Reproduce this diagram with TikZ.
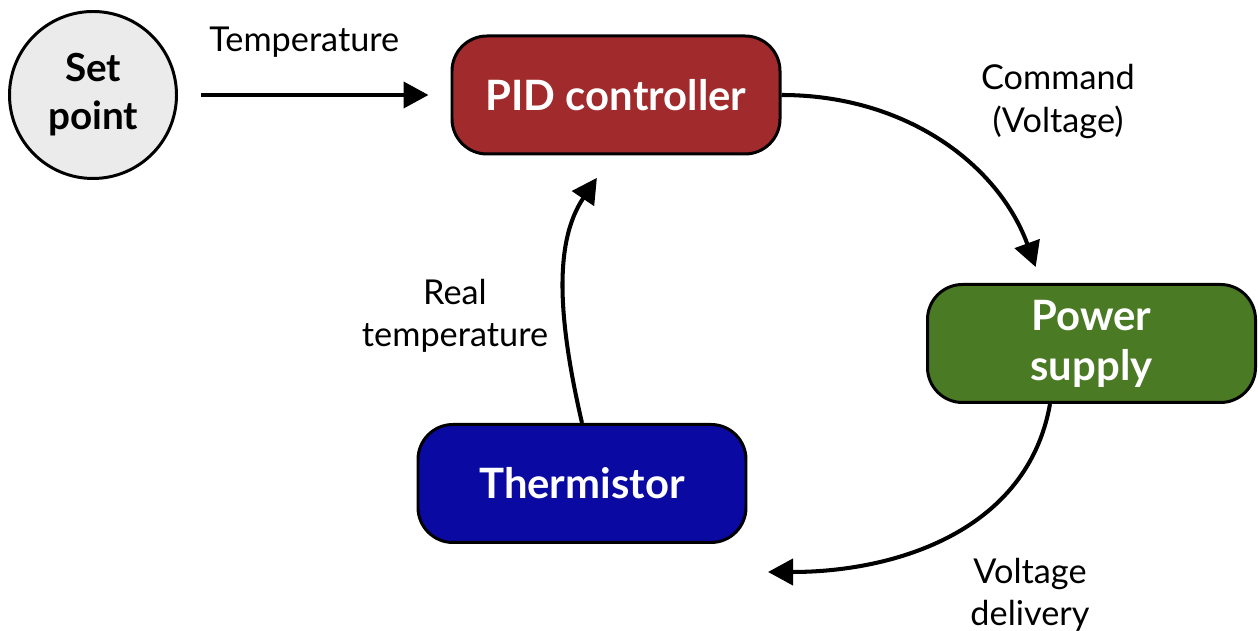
\documentclass[tikz,border=0pt]{standalone}
\usepackage{fontspec}
\setmainfont{Lato}
\usepackage{xcolor}
\usepackage{tikz}
\usetikzlibrary{arrows.meta,calc}
\definecolor{pidred}{HTML}{A02A2C}
\definecolor{psgreen}{HTML}{4A7A24}
\definecolor{thblue}{HTML}{0A0AA3}
\definecolor{spgray}{HTML}{EBEBEB}
\tikzset{
  block/.style={
    draw = black,
    line width = 1.7pt,
    rounded corners = 0.7cm,
    minimum width = 6.56cm,
    minimum height = 2.36cm,
    align = center,
    text = white,
    font = \fontsize{23.8}{28.5}\selectfont\bfseries
  },
  setpt/.style={
    draw = black,
    line width = 1.7pt,
    shape = circle,
    inner sep = 0pt,
    fill = spgray,
    minimum size = 3.34cm,
    align = center,
    font = \fontsize{22}{27.3}\selectfont\bfseries
  },
  flow/.style={
    line width = 2.3pt,
    -{Triangle[length=0.5cm,width=0.52cm]}
  },
  lbl/.style={
    align = center,
    font = \fontsize{19.5}{24}\selectfont
  }
}
\begin{document}
\begin{tikzpicture}
  \useasboundingbox (0,0) rectangle (25.16,12.62);
  % blocks
  \node[setpt] (sp) at (1.86,10.72) {Set\\point};
  \node[block, fill=pidred] (pid) at (12.32,10.72) {PID controller};
  \node[block, fill=psgreen] (pow) at (21.83,5.75) {Power\\supply};
  \node[block, fill=thblue] (th) at (11.64,2.95) {Thermistor};
  \coordinate (vd) at (15.36,1.18);
  % loop
  \draw[flow, shorten >=0.44cm, shorten <=0.46cm] (sp) -- node[lbl, midway, above=0.6cm, xshift=-0.2cm] {Temperature} (pid);
  \draw[flow, shorten >=0.34cm] (pid.east) to[out=0, in=110] ([xshift=-1cm]pow.north);
  \draw[flow] ([xshift=-0.83cm]pow.south) to[out=-100, in=0] (vd);
  \draw[flow, shorten >=0.54cm] (th.north) to[out=103, in=236] ([xshift=-0.08cm]pid.south);
  % labels
  \node[lbl] (cmd) at (21.16,10.59) {Command\\(Voltage)};
  \node[lbl] (vdl) at (20.6,0.72) {Voltage\\delivery};
  \node[lbl] (rt) at (9.1,6.3) {Real\\temperature};
\end{tikzpicture}
\end{document}
